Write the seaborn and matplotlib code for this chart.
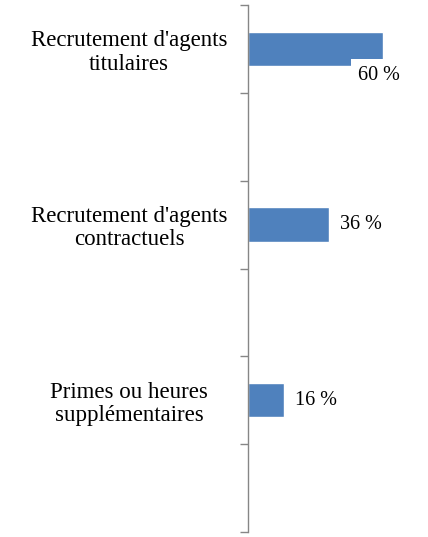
import matplotlib
matplotlib.use('Agg')
from matplotlib import pyplot as plt
import pandas as pd
import seaborn as sns

# categories (blank ones keep the gaps between bars)
categories = ["Recrutement d'agents\ntitulaires", "",
              "Recrutement d'agents\ncontractuels", " ",
              "Primes ou heures\nsupplémentaires", "  "]
values = [60, 0, 36, 0, 16, 0]
labels = ["60 %", "", "36 %", "", "16 %", ""]

df = pd.DataFrame({'cat': categories, 'val': values})

sns.set_style('white')
plt.rcParams['font.family'] = ['Liberation Serif', 'DejaVu Serif']

fig = plt.figure(figsize=(4.28, 5.37), dpi=100)
ax = fig.add_axes([248 / 428, 5 / 537, 1 - 248 / 428, 527 / 537])
sns.barplot(data=df, x='val', y='cat', orient='h', color='#4F81BD',
            saturation=1, width=0.39, ax=ax)

ax.set_xlim(0, 80)
ax.set_ylim(5.5, -0.5)
ax.set_xlabel('')
ax.set_ylabel('')
ax.set_xticks([])

# ticks on category boundaries, labels on category centres
ax.set_yticks([i - 0.5 for i in range(7)])
ax.set_yticklabels([])
ax.tick_params(axis='y', which='major', length=6, width=1, color='#868686', left=True)
ax.set_yticks(range(6), minor=True)
ax.set_yticklabels(categories, minor=True, fontsize=16.5, ha='center',
                   multialignment='center', linespacing=1.15, color='black')
ax.tick_params(axis='y', which='minor', length=0, pad=119 * 0.72)

for s in ['top', 'right', 'bottom']:
    ax.spines[s].set_visible(False)
ax.spines['left'].set_color('#868686')
ax.spines['left'].set_linewidth(1)

for i, (v, lab) in enumerate(zip(values, labels)):
    if not lab:
        continue
    if i == 0:
        ax.text(48.9, 0.3, lab, fontsize=14.5, va='center', ha='left', color='black',
                bbox=dict(boxstyle='square,pad=0.35', fc='white', ec='none'))
    else:
        ax.text(v + 4.9, i, lab, fontsize=14.5, va='center', ha='left', color='black')

fig.savefig('out.png', dpi=100)
